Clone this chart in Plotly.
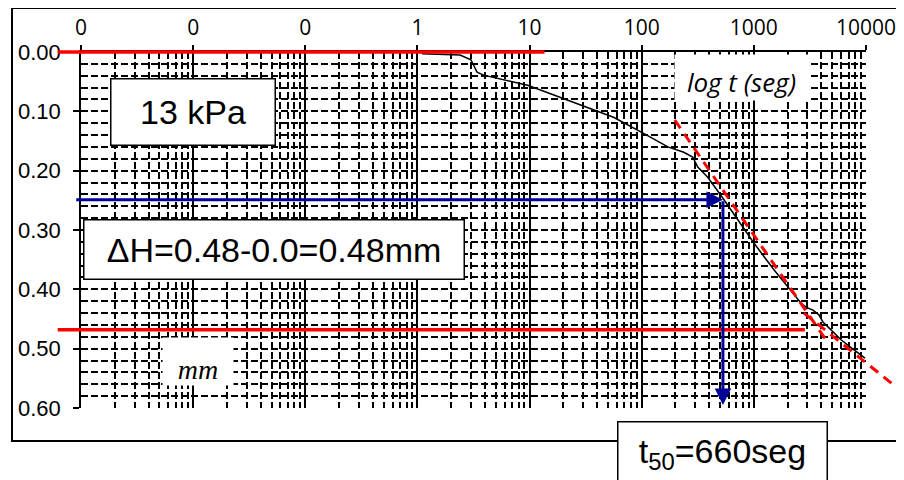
import math
import plotly.graph_objects as go

# ---------------- data ----------------
t_seg = [1.1, 2.4, 3.0, 3.4, 3.9, 7.2, 9.6, 12.5, 28.5, 56, 104, 171, 237, 285, 316, 388,
         528, 720, 1000, 1510, 2630, 2912, 3365, 3802, 4130, 4677, 5984, 7816, 9795]
def_mm = [0.003, 0.005, 0.013, 0.034, 0.039, 0.051, 0.056, 0.064, 0.089, 0.110, 0.137, 0.160,
          0.169, 0.177, 0.194, 0.211, 0.246, 0.283, 0.322, 0.367, 0.423, 0.430, 0.435, 0.443,
          0.455, 0.465, 0.485, 0.502, 0.516]

x_tickvals = [0.001, 0.01, 0.1, 1, 10, 100, 1000, 10000]
x_ticktext = ["0", "0", "0", "1", "10", "100", "1000", "10000"]
y_tickvals = [0.0, 0.1, 0.2, 0.3, 0.4, 0.5, 0.6]

# red reference lines (t from, t to, mm)
h0_line_t = [0.00062, 13.6]
h0_line_mm = 0.0
h100_line_t = [0.00062, 2850]
h100_line_mm = 0.468
# red dashed tangents (t, mm) pairs
tangent1_t = [197, 4580]
tangent1_mm = [0.1146, 0.490]
tangent2_t = [2800, 21800]
tangent2_mm = [0.440, 0.575]
# blue t50 construction
t50_arrow_t = [0.00088, 530]
t50_mm = [0.249, 0.595]

Y_MAX = 0.6
T_MIN, T_MAX = 0.001, 10000
X_RANGE = [math.log10(T_MIN), math.log10(T_MAX)]


def xpaper(t):
    return (math.log10(t) - X_RANGE[0]) / (X_RANGE[1] - X_RANGE[0])


def ypaper(v):
    return 1 - v / Y_MAX


fig = go.Figure()
fig.add_trace(go.Scatter(x=t_seg, y=def_mm, mode="lines",
                         line=dict(color="black", width=1.5), showlegend=False,
                         hoverinfo="skip"))

grid_dash = "7px,3px"
fig.update_xaxes(type="log", range=X_RANGE, side="top",
                 tickmode="array", tickvals=x_tickvals, ticktext=x_ticktext,
                 ticks="outside", ticklen=5, tickwidth=1.5, tickcolor="black",
                 showline=True, linecolor="black", linewidth=1.5,
                 showgrid=True, gridcolor="black", gridwidth=1.5,
                 tickfont=dict(family="Open Sans", size=21, color="black"),
                 ticklabelstandoff=2,
                 minor=dict(dtick="D1", showgrid=True, gridcolor="black", gridwidth=1.5,
                            griddash=grid_dash, ticks=""),
                 zeroline=False)
fig.update_yaxes(range=[Y_MAX, 0], tickmode="array", tickvals=y_tickvals, tickformat=".2f",
                 ticks="outside", ticklen=6, tickwidth=1.5, tickcolor="black",
                 showline=True, linecolor="black", linewidth=1.5,
                 showgrid=True, gridcolor="black", gridwidth=1.5, griddash=grid_dash,
                 minor=dict(dtick=0.02, showgrid=True, gridcolor="black", gridwidth=1.5,
                            griddash=grid_dash, ticks=""),
                 tickfont=dict(family="Liberation Sans", size=22, color="black"),
                 ticklabelstandoff=8, zeroline=False)

shapes = []
# outer border
shapes.append(dict(type="rect", xref="paper", yref="paper",
                   x0=(12 - 81) / 785, x1=(912 - 81) / 785,
                   y0=(408 - 441) / 356, y1=(408 - 8) / 356,
                   line=dict(color="black", width=2), fillcolor="rgba(0,0,0,0)", layer="below"))
# red horizontal lines
for tt, mm in [(h0_line_t, h0_line_mm), (h100_line_t, h100_line_mm)]:
    shapes.append(dict(type="line", xref="paper", yref="paper",
                       x0=xpaper(tt[0]), x1=xpaper(tt[1]),
                       y0=ypaper(mm), y1=ypaper(mm), line=dict(color="#FF0000", width=3.5)))
# red dashed tangents
for tt, mm in [(tangent1_t, tangent1_mm), (tangent2_t, tangent2_mm)]:
    shapes.append(dict(type="line", xref="paper", yref="paper",
                       x0=xpaper(tt[0]), x1=xpaper(tt[1]),
                       y0=ypaper(mm[0]), y1=ypaper(mm[1]),
                       line=dict(color="#FF0000", width=3, dash="10px,7px")))
fig.update_layout(shapes=shapes)

blue = "#000099"
ann = []
# horizontal arrow
ann.append(dict(xref="x", yref="y", axref="x", ayref="y",
                x=math.log10(t50_arrow_t[1]), y=t50_mm[0],
                ax=math.log10(t50_arrow_t[0]), ay=t50_mm[0],
                text="", showarrow=True, arrowhead=2, arrowsize=1.1, arrowwidth=3,
                arrowcolor=blue, standoff=0))
# vertical arrow
ann.append(dict(xref="x", yref="y", axref="x", ayref="y",
                x=math.log10(t50_arrow_t[1]), y=t50_mm[1],
                ax=math.log10(t50_arrow_t[1]), ay=t50_mm[0],
                text="", showarrow=True, arrowhead=2, arrowsize=1.1, arrowwidth=3,
                arrowcolor=blue, standoff=0))


def px2x(px):
    return (px - 81) / 785


def py2y(py):
    return (408 - py) / 356


big = dict(family="Liberation Sans", size=34, color="black")
ann.append(dict(xref="paper", yref="paper", x=px2x(193), y=py2y(112), text="13 kPa",
                showarrow=False, font=big, bgcolor="white", bordercolor="black",
                borderwidth=1.5, borderpad=0, width=163, height=65,
                xanchor="center", yanchor="middle"))
ann.append(dict(xref="paper", yref="paper", x=px2x(274), y=py2y(249.5),
                text="\u0394H=0.48-0.0=0.48mm",
                showarrow=False, font=big, bgcolor="white", bordercolor="black",
                borderwidth=1.5, borderpad=0, width=379, height=58,
                xanchor="center", yanchor="middle"))
ann.append(dict(xref="paper", yref="paper", x=px2x(722.5), y=py2y(421),
                text="t<sub>50</sub>=660seg",
                showarrow=False, font=big, bgcolor="white", bordercolor="black",
                borderwidth=1.5, borderpad=0, width=208, height=62,
                xanchor="center", yanchor="top"))
ann.append(dict(xref="paper", yref="paper", x=px2x(741.5), y=py2y(77.5),
                text="<i>log t (seg)</i>", showarrow=False,
                font=dict(family="Open Sans", size=26, color="black"),
                bgcolor="white", borderpad=0, width=133, height=45, valign="bottom",
                xanchor="center", yanchor="middle"))
ann.append(dict(xref="paper", yref="paper", x=px2x(198), y=py2y(361.5),
                text="<i>mm</i>", showarrow=False,
                font=dict(family="Liberation Serif", size=28, color="black"),
                bgcolor="white", borderpad=0, width=70, height=47, valign="bottom",
                xanchor="center", yanchor="middle"))
fig.update_layout(annotations=ann)

# page body adds an 8 px offset, so margins are set 8 px less on left/top
fig.update_layout(width=904, height=480,
                  margin=dict(l=73, r=46, t=44, b=80, autoexpand=False),
                  paper_bgcolor="white", plot_bgcolor="white", showlegend=False)

fig.write_html("out.html")
